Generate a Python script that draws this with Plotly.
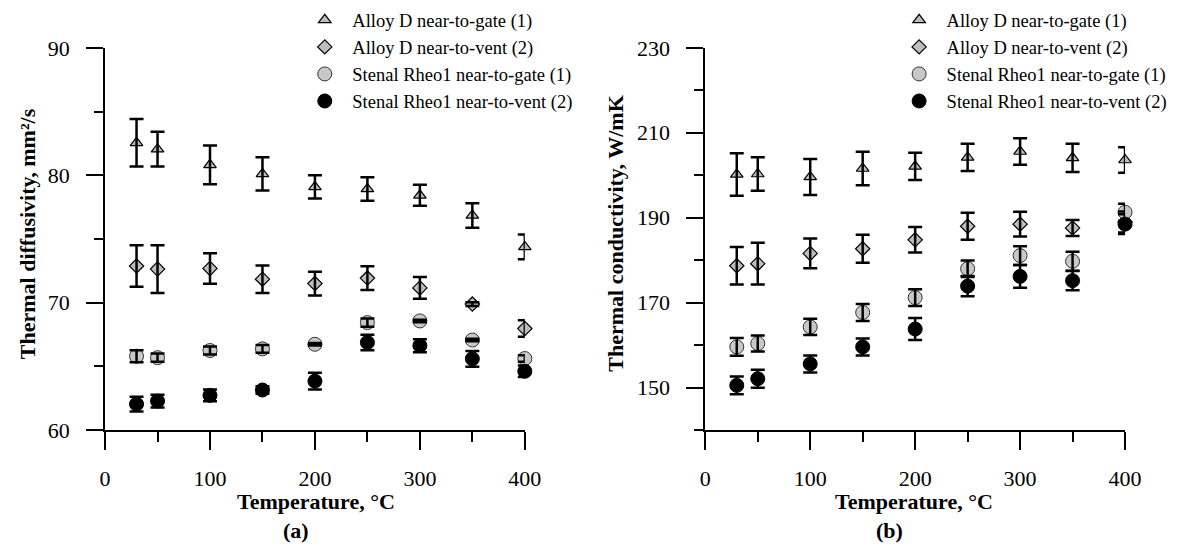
import plotly.graph_objects as go

temps = [30, 50, 100, 150, 200, 250, 300, 350, 400]
series_names = ["Alloy D near-to-gate (1)", "Alloy D near-to-vent (2)",
                "Stenal Rheo1 near-to-gate (1)", "Stenal Rheo1 near-to-vent (2)"]

# (a) Thermal diffusivity, mm2/s
diff_alloy_gate = [82.55, 82.05, 80.82, 80.11, 79.09, 78.93, 78.43, 76.85, 74.38]
diff_alloy_gate_err = [1.87, 1.37, 1.52, 1.31, 0.91, 0.92, 0.82, 0.96, 0.97]
diff_alloy_vent = [72.88, 72.64, 72.69, 71.85, 71.50, 71.93, 71.16, 69.89, 67.97]
diff_alloy_vent_err = [1.63, 1.87, 1.20, 1.08, 0.93, 0.93, 0.85, 0.15, 0.65]
diff_stenal_gate = [65.80, 65.69, 66.25, 66.38, 66.74, 68.44, 68.57, 67.07, 65.62]
diff_stenal_gate_err = [0.47, 0.33, 0.31, 0.31, 0.10, 0.32, 0.10, 0.10, 0.25]
diff_stenal_vent = [62.04, 62.28, 62.73, 63.15, 63.85, 66.88, 66.63, 65.60, 64.62]
diff_stenal_vent_err = [0.58, 0.50, 0.46, 0.30, 0.65, 0.61, 0.51, 0.62, 0.45]

# (b) Thermal conductivity, W/mK
cond_alloy_gate = [200.2, 200.3, 199.6, 201.6, 202.1, 204.2, 205.6, 204.1, 203.6]
cond_alloy_gate_err = [5.0, 3.95, 4.25, 3.95, 3.2, 3.2, 3.1, 3.3, 3.0]
cond_alloy_vent = [178.7, 179.2, 181.6, 182.7, 184.8, 188.0, 188.5, 187.6, 189.0]
cond_alloy_vent_err = [4.4, 4.9, 3.5, 3.3, 3.0, 3.15, 2.9, 1.9, 2.5]
cond_stenal_gate = [159.6, 160.4, 164.3, 167.7, 171.2, 178.0, 181.1, 179.75, 191.3]
cond_stenal_gate_err = [2.1, 1.9, 1.9, 2.0, 2.0, 1.95, 2.2, 2.25, 2.0]
cond_stenal_vent = [150.55, 152.1, 155.6, 159.6, 163.8, 173.9, 176.2, 175.2, 188.5]
cond_stenal_vent_err = [2.1, 2.1, 2.0, 2.0, 2.6, 2.4, 2.65, 2.25, 2.3]

FONT = "Liberation Serif"
styles = [
    dict(symbol="triangle-up", size=11, color="#BDBDBD", line=dict(color="black", width=1.2)),
    dict(symbol="diamond", size=11, color="#BDBDBD", line=dict(color="black", width=1.2)),
    dict(symbol="circle", size=14, color="#C8C8C8", line=dict(color="#333333", width=1)),
    dict(symbol="circle", size=14, color="black", line=dict(color="black", width=1)),
]

fig = go.Figure()

panels = [
    ("x", "y", "legend", [diff_alloy_gate, diff_alloy_vent, diff_stenal_gate, diff_stenal_vent],
     [diff_alloy_gate_err, diff_alloy_vent_err, diff_stenal_gate_err, diff_stenal_vent_err]),
    ("x2", "y2", "legend2", [cond_alloy_gate, cond_alloy_vent, cond_stenal_gate, cond_stenal_vent],
     [cond_alloy_gate_err, cond_alloy_vent_err, cond_stenal_gate_err, cond_stenal_vent_err]),
]

for xa, ya, lg, vals, errs in panels:
    for name, v, st in zip(series_names, vals, styles):
        fig.add_trace(go.Scatter(x=temps, y=v, mode="markers", name=name, marker=st,
                                 xaxis=xa, yaxis=ya, legend=lg, hoverinfo="skip",
                                 cliponaxis=False))
    for v, e in zip(vals, errs):
        fig.add_trace(go.Scatter(x=temps, y=v, mode="markers", showlegend=False,
                                 marker=dict(size=1, color="rgba(0,0,0,0)"),
                                 error_y=dict(type="data", array=e, visible=True,
                                              color="black", thickness=2.5, width=7),
                                 xaxis=xa, yaxis=ya, hoverinfo="skip", cliponaxis=False))

W, H = 1195, 560
def px_x(p):
    return p / W
def px_y(p):
    return 1 - p / H

ydom = [px_y(437.7), px_y(37.5)]
xaxis_common = dict(range=[0, 400], tickmode="linear", tick0=0, dtick=100,
                    ticks="outside", ticklen=18, tickwidth=2, tickcolor="black",
                    showline=True, linewidth=2, linecolor="black", showgrid=False, zeroline=False,
                    tickfont=dict(family=FONT, size=22, color="black"),
                    minor=dict(ticks="outside", ticklen=10, tickwidth=2, tickcolor="black",
                               dtick=50, tick0=0, showgrid=False),
                    ticklabelstandoff=9)

fig.update_layout(
    width=W, height=H, margin=dict(l=0, r=0, t=0, b=0),
    paper_bgcolor="white", plot_bgcolor="white",
    xaxis=dict(xaxis_common, domain=[px_x(101), px_x(529)], anchor="y"),
    xaxis2=dict(xaxis_common, domain=[px_x(713), px_x(1141)], anchor="y2"),
    yaxis=dict(domain=ydom, range=[60, 90], tickmode="linear", tick0=60, dtick=10,
               ticks="outside", ticklen=17, tickwidth=2, tickcolor="black",
               showline=True, linewidth=2, linecolor="black", showgrid=False, zeroline=False,
               tickfont=dict(family=FONT, size=22, color="black"),
               minor=dict(ticks="outside", ticklen=9, tickwidth=2, tickcolor="black",
                          dtick=5, tick0=60, showgrid=False),
               ticklabelstandoff=12, anchor="x"),
    yaxis2=dict(domain=ydom, range=[140, 230], tickmode="linear", tick0=150, dtick=20,
                ticks="outside", ticklen=17, tickwidth=2, tickcolor="black",
                showline=True, linewidth=2, linecolor="black", showgrid=False, zeroline=False,
                tickfont=dict(family=FONT, size=22, color="black"),
                minor=dict(ticks="outside", ticklen=9, tickwidth=2, tickcolor="black",
                           dtick=10, tick0=140, showgrid=False),
                ticklabelstandoff=12, anchor="x2"),
    legend=dict(x=px_x(297), y=1.02, xanchor="left", yanchor="top", bgcolor="rgba(0,0,0,0)",
                font=dict(family=FONT, size=18.5, color="black"), tracegroupgap=0,
                itemwidth=45),
    legend2=dict(x=px_x(903), y=1.02, xanchor="left", yanchor="top", bgcolor="rgba(0,0,0,0)",
                 font=dict(family=FONT, size=18.5, color="black"), tracegroupgap=0,
                 itemwidth=45),
    showlegend=True,
)

ann_font = dict(family=FONT, size=22, color="black")
annotations = [
    dict(text="<b>Thermal diffusivity, mm²/s</b>", x=px_x(22), y=px_y(232), textangle=-90),
    dict(text="<b>Thermal conductivity, W/mK</b>", x=px_x(622), y=px_y(232), textangle=-90),
    dict(text="<b>Temperature, °C</b>", x=px_x(316), y=px_y(512)),
    dict(text="<b>(a)</b>", x=px_x(296), y=px_y(543)),
    dict(text="<b>Temperature, °C</b>", x=px_x(926), y=px_y(512)),
    dict(text="<b>(b)</b>", x=px_x(901), y=px_y(543)),
]
for a in annotations:
    fig.add_annotation(xref="paper", yref="paper", xanchor="center", yanchor="middle",
                       showarrow=False, font=ann_font, **a)

fig.write_html("out.html")
